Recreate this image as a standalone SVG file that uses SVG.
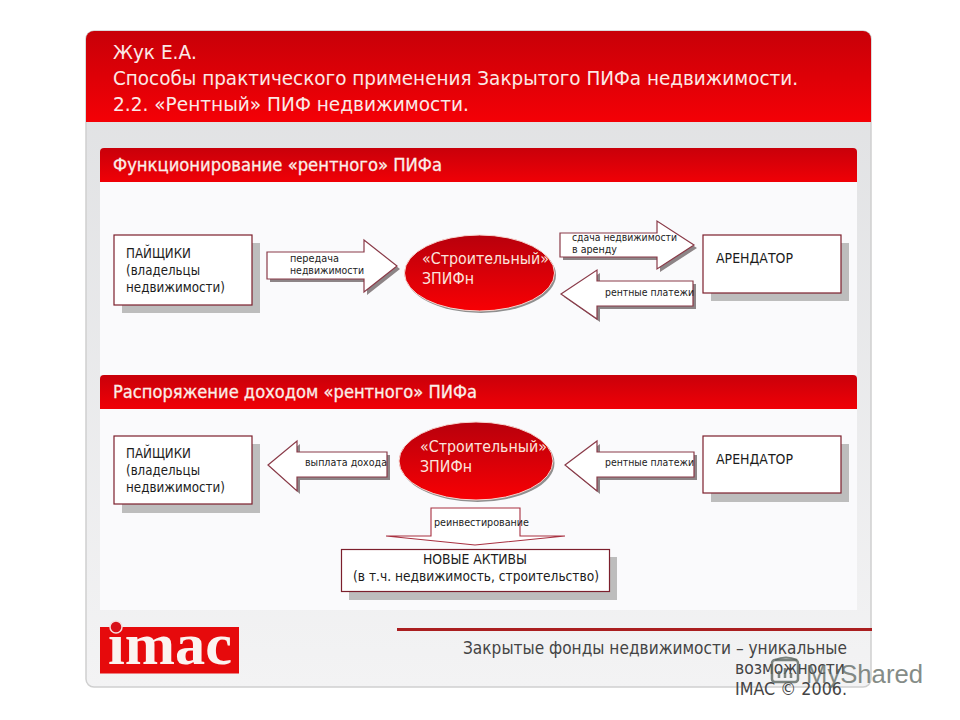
<svg xmlns="http://www.w3.org/2000/svg" width="960" height="720" viewBox="0 0 960 720">
<style>
text{font-family:"DejaVu Sans","Liberation Sans",sans-serif}
.title{font-size:19.500px;fill:#fbe9e6}
.sec{font-size:17px;fill:#fbeee8;paint-order:stroke;stroke:#fbeee8;stroke-width:.3px}
.box{fill:#fff;stroke:#7c1f2c;stroke-width:1.2}
.sh{fill:#bdbdbd}
.ash{fill:#8d8587}
.arr{fill:#fff;stroke:#8a3a48;stroke-width:1.2}
.t{font-size:13.500px;fill:#1c1c1c}
.s{font-size:10.500px;fill:#222}
.el{font-size:16.500px;fill:#fbe4dd}
.foot{font-size:17px;fill:#444}
</style>
<defs>
<linearGradient id="hdr" x1="0" y1="0" x2="0" y2="1"><stop offset="0" stop-color="#c80008"/><stop offset="1" stop-color="#f40006"/></linearGradient>
<linearGradient id="sec" x1="0" y1="0" x2="0" y2="1"><stop offset="0" stop-color="#c9000a"/><stop offset="1" stop-color="#f00006"/></linearGradient>
<linearGradient id="bg" x1="0" y1="0" x2="0" y2="1"><stop offset="0" stop-color="#dfe0e2"/><stop offset="1" stop-color="#f3f3f4"/></linearGradient>
<linearGradient id="ell" x1="0" y1="0" x2="0" y2="1"><stop offset="0" stop-color="#b8000c"/><stop offset="1" stop-color="#f80004"/></linearGradient>
</defs>
<rect width="960" height="720" fill="#fff"/>
<g id="frame">
<rect x="86" y="31" width="785" height="656" rx="8" fill="url(#bg)" stroke="#cfcfcf" stroke-width="1.500"/>
<path d="M86 122V39a8 8 0 0 1 8-8H863a8 8 0 0 1 8 8V122Z" fill="url(#hdr)"/>
<text class="title" x="113" y="59" textLength="84" lengthAdjust="spacingAndGlyphs">Жук Е.А.</text>
<text class="title" x="113" y="85" textLength="685" lengthAdjust="spacingAndGlyphs">Способы практического применения Закрытого ПИФа недвижимости.</text>
<text class="title" x="113" y="111" textLength="356" lengthAdjust="spacingAndGlyphs">2.2. «Рентный» ПИФ недвижимости.</text>
</g>
<g id="section-1">
<rect x="100" y="182" width="757" height="193" fill="#fafafc"/>
<path d="M100 182V152a4 4 0 0 1 4-4H853a4 4 0 0 1 4 4V182Z" fill="url(#sec)"/>
<text class="sec" x="113" y="171" textLength="329" lengthAdjust="spacingAndGlyphs">Функционирование «рентного» ПИФа</text>
</g>
<g id="section-2">
<rect x="100" y="409" width="757" height="201" fill="#fafafc"/>
<path d="M100 409V379a4 4 0 0 1 4-4H853a4 4 0 0 1 4 4V409Z" fill="url(#sec)"/>
<text class="sec" x="113" y="398" textLength="364" lengthAdjust="spacingAndGlyphs">Распоряжение доходом «рентного» ПИФа</text>
</g>
<g id="connectors">
<path class="ash" d="M270 255H367V243L400 269L367 295V282H270Z"/>
<path class="arr" d="M267 252H364V240L397 266L364 292V279H267Z"/>
<text class="s" x="290" y="262" textLength="49" lengthAdjust="spacingAndGlyphs">передача</text>
<text class="s" x="290" y="274" textLength="74" lengthAdjust="spacingAndGlyphs">недвижимости</text>
<path class="ash" d="M563 236H660V224L697 248L660 272V260H563Z"/>
<path class="arr" d="M560 233H657V221L694 245L657 269V257H560Z"/>
<text class="s" x="572" y="241" textLength="105" lengthAdjust="spacingAndGlyphs">сдача недвижимости</text>
<text class="s" x="572" y="253" textLength="45" lengthAdjust="spacingAndGlyphs">в аренду</text>
<path class="ash" d="M564 297L600 273V284H696V309H600V322Z"/>
<path class="arr" d="M561 294L597 270V281H693V306H597V319Z"/>
<text class="s" x="605" y="296" textLength="89" lengthAdjust="spacingAndGlyphs">рентные платежи</text>
<path class="ash" d="M271 468L300 444V455H390V480H300V494Z"/>
<path class="arr" d="M268 465L297 441V452H387V477H297V491Z"/>
<text class="s" x="305" y="466" textLength="82" lengthAdjust="spacingAndGlyphs">выплата дохода</text>
<path class="ash" d="M568 468L600 444V455H697V480H600V494Z"/>
<path class="arr" d="M565 465L597 441V452H694V477H597V491Z"/>
<text class="s" x="605" y="466" textLength="89" lengthAdjust="spacingAndGlyphs">рентные платежи</text>
<path d="M431 536V508H520V536L565 536L475 545L386 536Z" fill="#fff" stroke="#a83040" stroke-width="1.100"/>
<text class="s" x="434" y="526" textLength="95" lengthAdjust="spacingAndGlyphs">реинвестирование</text>
</g>
<g id="node-paishchiki-1">
<rect class="sh" x="122" y="243" width="138" height="70"/>
<rect class="box" x="114" y="235" width="138" height="70"/>
<text class="t" x="126" y="258" textLength="65" lengthAdjust="spacingAndGlyphs">ПАЙЩИКИ</text>
<text class="t" x="126" y="275" textLength="74" lengthAdjust="spacingAndGlyphs">(владельцы</text>
<text class="t" x="126" y="292" textLength="99" lengthAdjust="spacingAndGlyphs">недвижимости)</text>
</g>
<g id="node-zpif-1">
<ellipse cx="481" cy="275" rx="75" ry="38" fill="#8f8f8f"/>
<ellipse cx="479.500" cy="273" rx="75" ry="38" fill="url(#ell)" stroke="#f6d6d0" stroke-width="1"/>
<text class="el" x="422" y="264" textLength="127" lengthAdjust="spacingAndGlyphs">«Строительный»</text>
<text class="el" x="422" y="284" textLength="52" lengthAdjust="spacingAndGlyphs">ЗПИФн</text>
</g>
<g id="node-arendator-1">
<rect class="sh" x="711" y="243" width="138" height="58"/>
<rect class="box" x="703" y="235" width="138" height="58"/>
<text class="t" x="716" y="263" textLength="77" lengthAdjust="spacingAndGlyphs">АРЕНДАТОР</text>
</g>
<g id="node-paishchiki-2">
<rect class="sh" x="122" y="444" width="138" height="69"/>
<rect class="box" x="114" y="436" width="138" height="68"/>
<text class="t" x="126" y="458" textLength="65" lengthAdjust="spacingAndGlyphs">ПАЙЩИКИ</text>
<text class="t" x="126" y="475" textLength="74" lengthAdjust="spacingAndGlyphs">(владельцы</text>
<text class="t" x="126" y="492" textLength="99" lengthAdjust="spacingAndGlyphs">недвижимости)</text>
</g>
<g id="node-zpif-2">
<ellipse cx="477.500" cy="463" rx="77" ry="39" fill="#8f8f8f"/>
<ellipse cx="476" cy="461" rx="77" ry="39" fill="url(#ell)" stroke="#f6d6d0" stroke-width="1"/>
<text class="el" x="420" y="452" textLength="127" lengthAdjust="spacingAndGlyphs">«Строительный»</text>
<text class="el" x="420" y="472" textLength="52" lengthAdjust="spacingAndGlyphs">ЗПИФн</text>
</g>
<g id="node-arendator-2">
<rect class="sh" x="711" y="444" width="138" height="58"/>
<rect class="box" x="703" y="436" width="138" height="57"/>
<text class="t" x="716" y="464" textLength="77" lengthAdjust="spacingAndGlyphs">АРЕНДАТОР</text>
</g>
<g id="node-new-assets">
<rect class="sh" x="349" y="557" width="268" height="43"/>
<rect class="box" x="341.500" y="549.500" width="268" height="42"/>
<text class="t" x="423" y="564" textLength="104" lengthAdjust="spacingAndGlyphs">НОВЫЕ АКТИВЫ</text>
<text class="t" x="353" y="581" textLength="246" lengthAdjust="spacingAndGlyphs">(в т.ч. недвижимость, строительство)</text>
</g>
<g id="logo">
<rect x="100" y="627" width="139" height="46.500" fill="#e60a0c"/>
<text x="108" y="664" font-size="60" font-weight="700" fill="#fbf3f0" style="font-family:'Liberation Serif',serif" textLength="124" lengthAdjust="spacingAndGlyphs">ımac</text>
<circle cx="116" cy="627" r="6" fill="#d81018" stroke="#f6dcdc" stroke-width="1.500"/>
</g>
<g id="footer">
<rect x="397" y="628" width="475" height="3" fill="#aa1e20"/>
<text class="foot" x="463" y="654" textLength="384" lengthAdjust="spacingAndGlyphs">Закрытые фонды недвижимости – уникальные</text>
<text class="foot" x="735" y="674" textLength="110" lengthAdjust="spacingAndGlyphs">возможности</text>
<text class="foot" x="735" y="695" textLength="112" lengthAdjust="spacingAndGlyphs">IMAC © 2006.</text>
</g>
<g id="watermark">
<rect x="772" y="660" width="26" height="22" rx="3" fill="none" stroke="#5c6660" stroke-width="2.500" opacity=".8"/>
<path d="M775 660q11-5 22 0" fill="none" stroke="#5c6660" stroke-width="2" opacity=".8"/>
<path d="M779 678v-7M785 678v-10M791 678v-5" stroke="#5c6660" stroke-width="2.500" opacity=".8"/>
<text x="806" y="683" font-size="26" fill="#5c6660" opacity=".75" style="font-family:'Liberation Sans',sans-serif" textLength="117" lengthAdjust="spacingAndGlyphs">MyShared</text>
</g>
</svg>
